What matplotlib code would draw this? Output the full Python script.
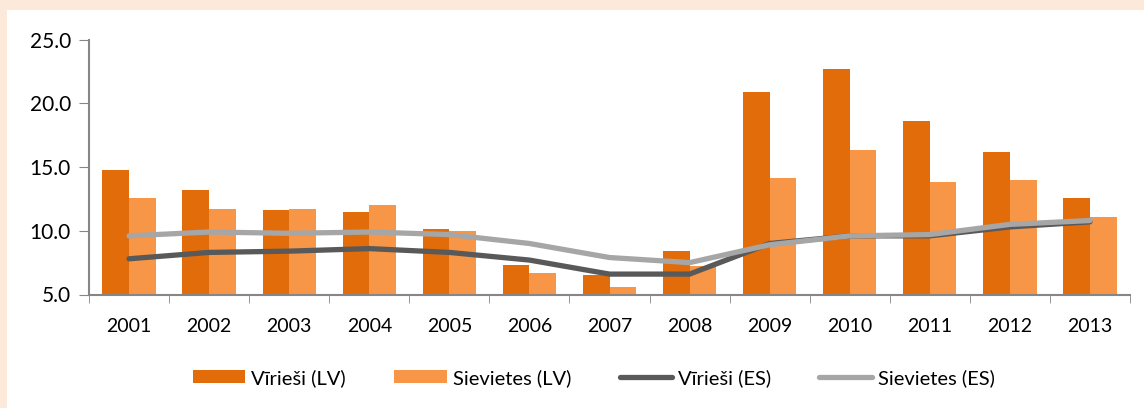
import numpy as np
import matplotlib.pyplot as plt
from matplotlib.patches import Rectangle

years = ['2001', '2002', '2003', '2004', '2005', '2006', '2007',
         '2008', '2009', '2010', '2011', '2012', '2013']
men_lv = [14.8, 13.2, 11.6, 11.5, 10.1, 7.3, 6.5, 8.4, 20.9, 22.7, 18.6, 16.2, 12.6]
women_lv = [12.6, 11.7, 11.7, 12.0, 10.0, 6.7, 5.6, 7.2, 14.1, 16.3, 13.8, 14.0, 11.1]
men_es = [7.8, 8.3, 8.4, 8.6, 8.3, 7.7, 6.6, 6.6, 9.0, 9.6, 9.6, 10.3, 10.7]
women_es = [9.6, 9.9, 9.8, 9.9, 9.7, 9.0, 7.9, 7.5, 8.9, 9.6, 9.7, 10.5, 10.8]

plt.rcParams['font.family'] = ['Lato', 'DejaVu Sans']

fig = plt.figure(figsize=(11.44, 4.08), dpi=100)
fig.patch.set_facecolor('white')
# peach frame on top and left
fig.add_artist(Rectangle((0, 1 - 10/408), 1, 10/408, transform=fig.transFigure,
                         facecolor='#FDE9D9', edgecolor='none', zorder=-1))
fig.add_artist(Rectangle((0, 0), 7/1144, 1, transform=fig.transFigure,
                         facecolor='#FDE9D9', edgecolor='none', zorder=-1))

ax = fig.add_axes([89/1144, 1 - 294.5/408, (1130 - 89)/1144, (294.5 - 39.5)/408])
x = np.arange(len(years))
w = 0.333
b1 = ax.bar(x - w/2, np.array(men_lv) - 5, w, bottom=5, color='#E36C0A', label='Vīrieši (LV)', zorder=2)
b2 = ax.bar(x + w/2, np.array(women_lv) - 5, w, bottom=5, color='#F79646', label='Sievietes (LV)', zorder=2)
l1, = ax.plot(x, men_es, color='#595959', lw=3.8, solid_capstyle='round', label='Vīrieši (ES)', zorder=3)
l2, = ax.plot(x, women_es, color='#A6A6A6', lw=3.8, solid_capstyle='round', label='Sievietes (ES)', zorder=4)

ax.set_xlim(-0.5, len(years) - 0.5)
ax.set_ylim(5, 25)
ax.set_yticks([5, 10, 15, 20, 25])
ax.set_yticklabels(['5.0', '10.0', '15.0', '20.0', '25.0'])
ax.set_xticks(x)
ax.set_xticklabels(years)
ax.set_xticks(np.arange(-0.5, len(years)), minor=True)
ax.tick_params(axis='x', which='major', length=0, pad=17, labelsize=14)
ax.tick_params(axis='x', which='minor', length=6, color='#868686', direction='out')
ax.tick_params(axis='y', length=7, color='#868686', direction='out', pad=6, labelsize=15)
for s in ['top', 'right']:
    ax.spines[s].set_visible(False)
for s in ['left', 'bottom']:
    ax.spines[s].set_color('#868686')
    ax.spines[s].set_linewidth(1.5)
ax.patch.set_alpha(0)

ax.legend([b1, b2, l1, l2], ['Vīrieši (LV)', 'Sievietes (LV)', 'Vīrieši (ES)', 'Sievietes (ES)'],
          loc='center', bbox_to_anchor=(0.485, -0.327), ncol=4, frameon=False,
          fontsize=14.5, handlelength=2.6, handleheight=0.65, handletextpad=0.3,
          columnspacing=2.4)

fig.savefig('out.png', dpi=100)
